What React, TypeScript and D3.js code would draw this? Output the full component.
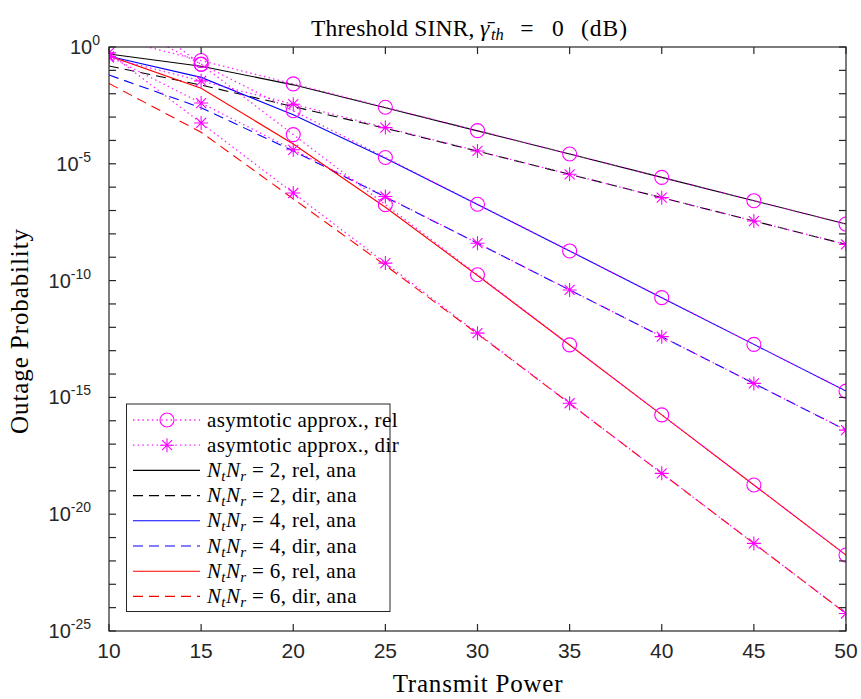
import React from "react";
import * as d3 from "d3";

const transmitPower = [10, 15, 20, 25, 30, 35, 40, 45, 50];

// asymptotic approximations (magenta dotted with markers)
const asymRelN2 = [2.63, 2.63e-1, 2.63e-2, 2.63e-3, 2.63e-4, 2.63e-5, 2.63e-6, 2.63e-7, 2.63e-8];
const asymDirN2 = [3.55e-1, 3.55e-2, 3.55e-3, 3.55e-4, 3.55e-5, 3.55e-6, 3.55e-7, 3.55e-8, 3.55e-9];
const asymRelN4 = [18.6, 1.86e-1, 1.86e-3, 1.86e-5, 1.86e-7, 1.86e-9, 1.86e-11, 1.86e-13, 1.86e-15];
const asymDirN4 = [3.98e-1, 3.98e-3, 3.98e-5, 3.98e-7, 3.98e-9, 3.98e-11, 3.98e-13, 3.98e-15, 3.98e-17];
const asymRelN6 = [178, 1.78e-1, 1.78e-4, 1.78e-7, 1.78e-10, 1.78e-13, 1.78e-16, 1.78e-19, 1.78e-22];
const asymDirN6 = [5.62e-1, 5.62e-4, 5.62e-7, 5.62e-10, 5.62e-13, 5.62e-16, 5.62e-19, 5.62e-22, 5.62e-25];

// analytical curves
const anaRelN2 = [0.5, 0.151, 2.4e-2, 2.51e-3, 2.57e-4, 2.63e-5, 2.63e-6, 2.63e-7, 2.63e-8];
const anaDirN2 = [0.155, 2.34e-2, 2.82e-3, 3.31e-4, 3.47e-5, 3.55e-6, 3.55e-7, 3.55e-8, 3.55e-9];
const anaRelN4 = [0.4, 5.01e-2, 1.26e-3, 1.74e-5, 1.82e-7, 1.86e-9, 1.86e-11, 1.86e-13, 1.86e-15];
const anaDirN4 = [6.31e-2, 2.51e-3, 3.55e-5, 3.8e-7, 3.98e-9, 3.98e-11, 3.98e-13, 3.98e-15, 3.98e-17];
const anaRelN6 = [0.417, 1.7e-2, 7.08e-5, 1.38e-7, 1.66e-10, 1.74e-13, 1.78e-16, 1.78e-19, 1.78e-22];
const anaDirN6 = [2.75e-2, 2.24e-4, 3.16e-7, 4.47e-10, 5.25e-13, 5.5e-16, 5.62e-19, 5.62e-22, 5.62e-25];

const xTicks = [10, 15, 20, 25, 30, 35, 40, 45, 50];
const yTickExps = [0, -5, -10, -15, -20, -25];
const yMinorExps = d3.range(0, -26, -1);

const legendLabels = [
  "asymtotic approx., rel",
  "asymtotic approx., dir",
  "2, rel, ana",
  "2, dir, ana",
  "4, rel, ana",
  "4, dir, ana",
  "6, rel, ana",
  "6, dir, ana",
];

const W = 861;
const H = 699;
const L = 109, R = 846, T = 47, B = 631;
const MAG = "#ff00ff";
const AXC = "#262626";
const SERIF = "'Liberation Serif', 'Times New Roman', serif";
const SANS = "'Liberation Sans', Arial, Helvetica, sans-serif";

const x = d3.scaleLinear().domain([10, 50]).range([L, R]);
const y = d3.scaleLog().domain([1e-25, 1]).range([B, T]);

const lineGen = d3
  .line<[number, number]>()
  .x((d) => x(d[0]))
  .y((d) => y(d[1]));

const pts = (vals: number[]) => transmitPower.map((p, i) => [p, vals[i]] as [number, number]);

const starPath = "M0,-7V7M-7,0H7M-5,-5L5,5M-5,5L5,-5";

type Ana = { vals: number[]; color: string; dash?: string };
const anaSeries: Ana[] = [
  { vals: anaRelN2, color: "#000000" },
  { vals: anaDirN2, color: "#000000", dash: "10,6" },
  { vals: anaRelN4, color: "#0000ff" },
  { vals: anaDirN4, color: "#0000ff", dash: "10,6" },
  { vals: anaRelN6, color: "#ff0000" },
  { vals: anaDirN6, color: "#ff0000", dash: "10,6" },
];

const asymRel = [asymRelN2, asymRelN4, asymRelN6];
const asymDir = [asymDirN2, asymDirN4, asymDirN6];

const Circle = ({ cx, cy }: { cx: number; cy: number }) => (
  <circle cx={cx} cy={cy} r={7} fill="none" stroke={MAG} strokeWidth={1.1} />
);
const Star = ({ cx, cy }: { cx: number; cy: number }) => (
  <path d={starPath} transform={`translate(${cx},${cy})`} fill="none" stroke={MAG} strokeWidth={1.1} />
);

export default function App() {
  const dotStyle = { stroke: MAG, strokeWidth: 1.3, strokeDasharray: "1.5,3.2", fill: "none", opacity: 0.85 };
  const legX0 = 126.5, legY0 = 404, legX1 = 390, legY1 = 611.5;
  const rowY = (i: number) => 420 + i * 25.2;
  const tStyle = { fontFamily: SERIF, fill: "#000" };
  return (
    <svg
      width={W}
      height={H}
      style={{ position: "absolute", left: 0, top: 0, background: "#ffffff" }}
      xmlns="http://www.w3.org/2000/svg"
    >
      <defs>
        <clipPath id="plotClip">
          <rect x={L} y={T} width={R - L} height={B - T} />
        </clipPath>
      </defs>
      <rect x={0} y={0} width={W} height={H} fill="#ffffff" />
      <rect x={L} y={T} width={R - L} height={B - T} fill="#ffffff" />

      {/* title */}
      <g {...tStyle} fontSize={23.5}>
        <text x={311} y={36} letterSpacing={0.2}>Threshold SINR,</text>
        <text x={480} y={36} fontStyle="italic">{"\u03B3\u0304"}</text>
        <text x={491} y={40} fontStyle="italic" fontSize={16.5}>th</text>
        <text x={527} y={36} textAnchor="middle">=</text>
        <text x={552} y={36}>0</text>
        <text x={581} y={36} letterSpacing={1}>(dB)</text>
      </g>

      {/* data */}
      <g clipPath="url(#plotClip)">
        {anaSeries.map((s, i) => (
          <path
            key={"a" + i}
            d={lineGen(pts(s.vals)) || ""}
            fill="none"
            stroke={s.color}
            strokeWidth={1.1}
            strokeDasharray={s.dash}
          />
        ))}
        {asymRel.map((vals, i) => (
          <g key={"r" + i}>
            <path d={lineGen(pts(vals)) || ""} style={dotStyle} />
            {transmitPower.map((p, j) => (
              <Circle key={j} cx={x(p)} cy={y(vals[j])} />
            ))}
          </g>
        ))}
        {asymDir.map((vals, i) => (
          <g key={"d" + i}>
            <path d={lineGen(pts(vals)) || ""} style={dotStyle} />
            {transmitPower.map((p, j) => (
              <Star key={j} cx={x(p)} cy={y(vals[j])} />
            ))}
          </g>
        ))}
      </g>

      {/* axes box and ticks */}
      <g stroke={AXC} strokeWidth={1.2} fill="none">
        <rect x={L} y={T} width={R - L} height={B - T} />
        {xTicks.map((t) => (
          <g key={"xt" + t}>
            <line x1={x(t)} x2={x(t)} y1={B} y2={B - 7} />
            <line x1={x(t)} x2={x(t)} y1={T} y2={T + 7} />
          </g>
        ))}
        {yMinorExps.map((e) => (
          <g key={"yt" + e}>
            <line x1={L} x2={L + 7} y1={y(Math.pow(10, e))} y2={y(Math.pow(10, e))} />
            <line x1={R} x2={R - 7} y1={y(Math.pow(10, e))} y2={y(Math.pow(10, e))} />
          </g>
        ))}
      </g>

      {/* tick labels */}
      {xTicks.map((t) => (
        <text key={"xl" + t} x={x(t)} y={658} textAnchor="middle" fontFamily={SANS} fontSize={21} fill="#262626">
          {t}
        </text>
      ))}
      {yTickExps.map((e) => (
        <text
          key={"yl" + e}
          x={e === 0 ? 100 : 91}
          y={y(Math.pow(10, e)) + 7}
          textAnchor="end"
          fontFamily={SANS}
          fontSize={20}
          fill="#262626"
        >
          10
          <tspan fontSize={14} dy={-9}>
            {e === 0 ? "0" : "-" + Math.abs(e)}
          </tspan>
        </text>
      ))}

      {/* axis labels */}
      <text x={478} y={692} textAnchor="middle" {...tStyle} fontSize={25} letterSpacing={0.8}>
        Transmit Power
      </text>
      <text
        transform={`translate(28,${331}) rotate(-90)`}
        textAnchor="middle"
        {...tStyle}
        fontSize={25}
        letterSpacing={0.9}
      >
        Outage Probability
      </text>

      {/* legend */}
      <rect x={legX0} y={legY0} width={legX1 - legX0} height={legY1 - legY0} fill="#ffffff" stroke={AXC} strokeWidth={1} />
      {legendLabels.map((lab, i) => {
        const ry = rowY(i);
        let sample: React.ReactNode;
        if (i === 0 || i === 1) {
          sample = (
            <g>
              <line x1={133} x2={200} y1={ry} y2={ry} style={dotStyle} />
              {i === 0 ? <Circle cx={167} cy={ry} /> : <Star cx={167} cy={ry} />}
            </g>
          );
        } else {
          const s = anaSeries[i - 2];
          sample = (
            <line x1={133} x2={200} y1={ry} y2={ry} stroke={s.color} strokeWidth={1.1} strokeDasharray={s.dash} />
          );
        }
        return (
          <g key={"lg" + i}>
            {sample}
            {i < 2 ? (
              <text x={207} y={ry + 6.5} {...tStyle} fontSize={21} letterSpacing={0.35}>
                {lab}
              </text>
            ) : (
              <text x={207} y={ry + 6.5} {...tStyle} fontSize={21} letterSpacing={0.35}>
                <tspan fontStyle="italic">N</tspan>
                <tspan fontStyle="italic" fontSize={15} dy={4}>t</tspan>
                <tspan fontStyle="italic" dy={-4}>N</tspan>
                <tspan fontStyle="italic" fontSize={15} dy={4}>r</tspan>
                <tspan dy={-4}>{" = " + lab}</tspan>
              </text>
            )}
          </g>
        );
      })}
    </svg>
  );
}
